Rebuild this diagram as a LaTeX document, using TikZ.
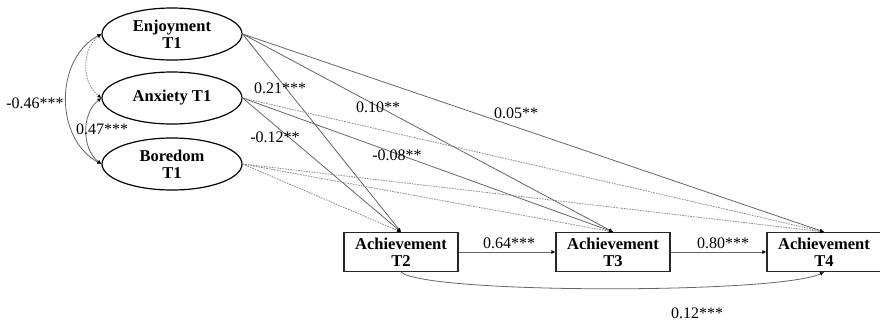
\documentclass[tikz,border=0pt]{standalone}
\usepackage{fontspec}
\setmainfont{Liberation Serif}
\usetikzlibrary{shapes.geometric,arrows.meta}
\begin{document}
\begin{tikzpicture}[x=0.75pt,y=-0.75pt,
  ell/.style={ellipse,draw=black,line width=0.9pt,minimum width=105pt,minimum height=39pt,inner sep=0pt,align=center,font=\fontsize{12.4}{12.8}\selectfont\bfseries},
  abox/.style={rectangle,draw=black!85,line width=0.9pt,minimum width=85.5pt,minimum height=29.25pt,inner sep=0pt,align=center,font=\fontsize{12.4}{12.8}\selectfont\bfseries},
  tip/.style={-{Latex[length=3pt,width=3pt,color=black]}},
  solidpath/.style={tip,draw=black!60,line width=0.6pt},
  dashpath/.style={tip,draw=black!45,line width=0.6pt,dash pattern=on 1.2pt off 0.8pt},
  cov/.style={{Latex[length=3pt,width=3pt,color=black]}-{Latex[length=3pt,width=3pt,color=black]},draw=black!60,line width=0.6pt},
  lbl/.style={font=\fontsize{12}{13}\selectfont,inner sep=0pt}]
\useasboundingbox (0,0) rectangle (880,325);
% latent factors
\node[ell] (enj) at (172,34) {Enjoyment\\T1};
\node[ell] (anx) at (172,98) {Anxiety T1};
\node[ell] (bor) at (172,164) {Boredom\\T1};
% achievement boxes
\node[abox] (t2) at (401,252) {Achievement\\T2};
\node[abox] (t3) at (613,252) {Achievement\\T3};
\node[abox] (t4) at (824,252) {Achievement\\T4};
% covariances
\draw[cov] (enj.west) .. controls +(-47,25) and +(-47,-25) .. (bor.west);
\draw[cov,dash pattern=on 1.2pt off 0.8pt,draw=black!45] (enj.west) .. controls +(-20,15) and +(-20,-15) .. (anx.west);
\draw[cov] (anx.west) .. controls +(-20,15) and +(-20,-15) .. (bor.west);
% paths from enjoyment
\draw[solidpath] (enj.east) -- (t2.north);
\draw[solidpath] (enj.east) -- (t3.north);
\draw[solidpath] (enj.east) -- (t4.north);
% paths from anxiety
\draw[solidpath] (anx.east) -- (t2.north);
\draw[solidpath] (anx.east) -- (t3.north);
\draw[dashpath] (anx.east) -- (t4.north);
% paths from boredom
\draw[dashpath] (bor.east) -- (t2.north);
\draw[dashpath] (bor.east) -- (t3.north);
\draw[dashpath] (bor.east) -- (t4.north);
% autoregressive paths
\draw[solidpath] (t2.east) -- (t3.west);
\draw[solidpath] (t3.east) -- (t4.west);
\draw[solidpath] (t2.south) .. controls +(25,22) and +(-45,22) .. (t4.south);
% labels
\node[lbl] (l1) at (35,103) {-0.46***};
\node[lbl] (l2) at (102,129) {0.47***};
\node[lbl] (l3) at (280,88) {0.21***};
\node[lbl] (l4) at (378,107) {0.10**};
\node[lbl] (l5) at (516,113) {0.05**};
\node[lbl] (l6) at (275,137) {-0.12**};
\node[lbl] (l7) at (397,155) {-0.08**};
\node[lbl] (l8) at (509,243) {0.64***};
\node[lbl] (l9) at (723,243) {0.80***};
\node[lbl] (l10) at (697,313) {0.12***};
\end{tikzpicture}
\end{document}
